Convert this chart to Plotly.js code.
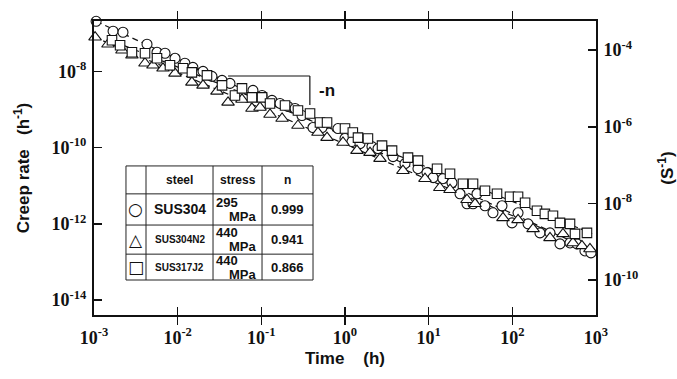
<!DOCTYPE html>
<html><head><meta charset="utf-8">
<script src="https://cdn.plot.ly/plotly-3.0.1.min.js"></script>
<style>html,body{margin:0;padding:0;background:#fff}#chart{width:677px;height:379px}</style>
</head><body><div id="chart"></div>
<script>
// SUS304 (circles), 295 MPa
const timeSUS304 = [1.06e-3,1.69e-3,2.22e-3,4.30e-3,5.66e-3,7.06e-3,9.3e-3,1.22e-2,1.52e-2,2.01e-2,2.57e-2,3.39e-2,4.22e-2,7.94e-2,0.102,0.134,0.167,0.208,0.253,0.306,0.414,0.531,0.824,1.0,1.21,1.51,2.10,2.48,3.75,5.21,7.45,9.55,11.3,14.8,19.0,23.7,28.7,33.9,37.8,47.1,58.7,75.2,99.1,117,154,214,282,371,489,593,738,871];
const rateSUS304 = [2.05e-7,1.13e-7,1.06e-7,5.14e-8,3.16e-8,2.98e-8,2.2e-8,1.63e-8,1.27e-8,1.0e-8,7.38e-9,5.8e-9,4.83e-9,3.16e-9,2.33e-9,1.73e-9,1.44e-9,1.2e-9,1.06e-9,6.95e-10,3.36e-10,3.36e-10,3.16e-10,1.73e-10,1.44e-10,1.27e-10,1.06e-10,9.4e-11,5.8e-11,3.79e-11,2.8e-11,2.2e-11,1.63e-11,1.53e-11,1.2e-11,6.15e-12,3.36e-12,3.36e-12,6.15e-12,2.98e-12,1.95e-12,2.98e-12,1.06e-12,1.95e-12,1.0e-12,5.8e-13,5.8e-13,2.98e-13,3.16e-13,2.98e-13,1.95e-13,1.73e-13];
// SUS304N2 (triangles), 440 MPa
const timeSUS304N2 = [1.03e-3,1.47e-3,2.16e-3,2.84e-3,4.07e-3,5.07e-3,6.68e-3,9.29e-3,1.48e-2,2.01e-2,2.95e-2,4.0e-2,5.87e-2,7.73e-2,9.64e-2,0.127,0.177,0.274,0.475,0.610,0.946,1.39,1.99,2.62,4.93,9.04,13.6,18.0,28.7,35.8,77.3,117,177,282,403,530,679,847];
const rateSUS304N2 = [7.85e-8,5.14e-8,3.57e-8,2.64e-8,1.63e-8,1.44e-8,1.2e-8,8.85e-9,5.14e-9,4.29e-9,2.98e-9,1.53e-9,1.83e-9,1.06e-9,1.13e-9,7.38e-10,5.8e-10,3.79e-10,2.48e-10,1.83e-10,1.36e-10,8.34e-11,7.38e-11,5.14e-11,2.48e-11,1.53e-11,8.85e-12,7.85e-12,4.29e-12,3.36e-12,1.44e-12,1.27e-12,7.38e-13,4.29e-13,5.46e-13,3.16e-13,2.64e-13,2.2e-13];
// SUS317J2 (squares), 440 MPa
const timeSUS317J2 = [1.64e-3,2.05e-3,2.84e-3,4.07e-3,5.66e-3,8.09e-3,1.16e-2,1.48e-2,2.24e-2,3.39e-2,4.84e-2,5.87e-2,7.73e-2,0.102,0.127,0.192,0.274,0.382,0.502,0.610,1.0,1.24,1.43,1.88,2.77,3.65,5.66,7.45,12.6,18.0,25.7,33.9,47.1,65.6,93.8,117,142,197,245,306,371,489,561,780];
const rateSUS317J2 = [6.55e-8,4.83e-8,3.16e-8,2.98e-8,2.2e-8,1.44e-8,1.2e-8,9.4e-9,7.85e-9,4.29e-9,2.33e-9,3.57e-9,2.07e-9,2.07e-9,1.44e-9,1.27e-9,9.4e-10,7.85e-10,4.55e-10,4.55e-10,3.16e-10,2.48e-10,1.83e-10,1.73e-10,1.13e-10,8.34e-11,5.46e-11,4.55e-11,2.8e-11,2.07e-11,1.13e-11,1.13e-11,7.38e-12,6.15e-12,5.14e-12,5.14e-12,3.57e-12,2.2e-12,1.83e-12,1.63e-12,1.06e-12,1.0e-12,5.46e-13,5.8e-13];
// fitted (dashed) lines, end points
const fitTimeSUS304 = [1.06e-3, 900];
const fitRateSUS304 = [2.05e-7, 2.0e-13];
const fitTimeSUS304N2 = [1.0e-3, 900];
const fitRateSUS304N2 = [8.0e-8, 2.1e-13];
const fitTimeSUS317J2 = [1.6e-3, 900];
const fitRateSUS317J2 = [6.5e-8, 5.6e-13];

const xTickVals = [1e-3,1e-2,1e-1,1e0,1e1,1e2,1e3];
const xTickText = ['10<sup>-3</sup>','10<sup>-2</sup>','10<sup>-1</sup>','10<sup>0</sup>','10<sup>1</sup>','10<sup>2</sup>','10<sup>3</sup>'];
const yTickVals = [1e-14,1e-12,1e-10,1e-8];
const yTickText = ['10<sup>-14</sup>','10<sup>-12</sup>','10<sup>-10</sup>','10<sup>-8</sup>'];
const y2TickVals = [1e-10,1e-8,1e-6,1e-4];
const y2TickText = ['10<sup>-10</sup>','10<sup>-8</sup>','10<sup>-6</sup>','10<sup>-4</sup>'];

const steels = ['SUS304','SUS304N2','SUS317J2'];
const stresses = ['295','440','440'];
const nValues = ['0.999','0.941','0.866'];
const symbolsText = ['\u25CB','\u25B3','\u25A1'];

const mk = (sym, s) => ({symbol: sym, size: s, color: '#fff', line: {color: '#111', width: 1.1}});
const traces = [
  {x: fitTimeSUS304, y: fitRateSUS304, mode: 'lines', line: {color: '#111', width: 1.2, dash: '6px,4px'}, showlegend: false},
  {x: fitTimeSUS304N2, y: fitRateSUS304N2, mode: 'lines', line: {color: '#111', width: 1.2, dash: '6px,4px'}, showlegend: false},
  {x: fitTimeSUS317J2, y: fitRateSUS317J2, mode: 'lines', line: {color: '#111', width: 1.2, dash: '8px,3px'}, showlegend: false},
  {x: timeSUS304, y: rateSUS304, mode: 'markers', marker: mk('circle', 10), cliponaxis: false, showlegend: false},
  {x: timeSUS304N2, y: rateSUS304N2, mode: 'markers', marker: mk('triangle-up', 11), cliponaxis: false, showlegend: false},
  {x: timeSUS317J2, y: rateSUS317J2, mode: 'markers', marker: mk('square', 9.5), cliponaxis: false, showlegend: false},
  {x: [], y: [], yaxis: 'y2', mode: 'markers', showlegend: false}
];

const tickFont = {family: 'Liberation Serif', size: 18, color: '#111', weight: 'bold'};
const titleFont = {family: 'Liberation Sans', size: 17, color: '#111', weight: 'bold'};

// table geometry in paper coords
const colX = [0.0637, 0.1036, 0.2371, 0.3347, 0.4363];
const rowY = [0.507, 0.412, 0.306, 0.207, 0.119];
const shapes = [];
shapes.push({type: 'rect', xref: 'paper', yref: 'paper', x0: colX[0], x1: colX[4], y0: rowY[4], y1: rowY[0], line: {color: '#222', width: 1}, fillcolor: '#fff', layer: 'above'});
for (let i = 1; i < 4; i++) shapes.push({type: 'line', xref: 'paper', yref: 'paper', x0: colX[i], x1: colX[i], y0: rowY[4], y1: rowY[0], line: {color: '#222', width: 1}});
for (let j = 1; j < 4; j++) shapes.push({type: 'line', xref: 'paper', yref: 'paper', x0: colX[0], x1: colX[4], y0: rowY[j], y1: rowY[j], line: {color: '#222', width: 1}});
// slope indicator
shapes.push({type: 'line', xref: 'paper', yref: 'paper', x0: 0.267, x1: 0.430, y0: 0.813, y1: 0.813, line: {color: '#111', width: 1.2}});
shapes.push({type: 'line', xref: 'paper', yref: 'paper', x0: 0.430, x1: 0.430, y0: 0.813, y1: 0.714, line: {color: '#111', width: 1.2}});

const bf = (s) => ({family: 'Liberation Sans', size: s, color: '#111', weight: 'bold'});
const ann = [];
const A = (x, y, text, size, xanchor) => ann.push({xref: 'paper', yref: 'paper', x: x, y: y, text: '<b>' + text + '</b>', showarrow: false, font: bf(size), xanchor: xanchor || 'center', yanchor: 'middle'});
A(0.444, 0.762, '-n', 17, 'left');
A((colX[1]+colX[2])/2, (rowY[0]+rowY[1])/2, 'steel', 12);
A((colX[2]+colX[3])/2, (rowY[0]+rowY[1])/2, 'stress', 12);
A((colX[3]+colX[4])/2, (rowY[0]+rowY[1])/2, 'n', 12);
const steelSizes = [14, 10, 10];
for (let r = 0; r < 3; r++) {
  const yc = (rowY[r+1] + rowY[r+2]) / 2;
  ann.push({xref: 'paper', yref: 'paper', x: (colX[0]+colX[1])/2, y: yc, text: symbolsText[r], showarrow: false, font: {family: 'DejaVu Sans', size: 17, color: '#111'}, xanchor: 'center', yanchor: 'middle'});
  A((colX[1]+colX[2])/2, yc, steels[r], steelSizes[r]);
  A(0.264, yc + 0.024, stresses[r], 13);
  A(0.296, yc - 0.024, 'MPa', 13);
  A((colX[3]+colX[4])/2, yc, nValues[r], 13);
}

const layout = {
  width: 677, height: 379,
  margin: {l: 94, r: 81, t: 21, b: 64},
  paper_bgcolor: '#fff', plot_bgcolor: '#fff',
  xaxis: {type: 'log', range: [-3, 3], tickmode: 'array', tickvals: xTickVals, ticktext: xTickText,
    ticks: 'inside', ticklen: 8, tickwidth: 1.5, tickcolor: '#111', showline: true, linecolor: '#111', linewidth: 2,
    mirror: 'allticks', showgrid: false, zeroline: false, tickfont: tickFont, ticklabelstandoff: 5,
    title: {text: '<b>Time    (h)</b>', font: titleFont, standoff: 6}},
  yaxis: {type: 'log', range: [-14.39, -6.68], tickmode: 'array', tickvals: yTickVals, ticktext: yTickText,
    ticks: 'inside', ticklen: 8, tickwidth: 1.5, tickcolor: '#111', showline: true, linecolor: '#111', linewidth: 2,
    mirror: true, showgrid: false, zeroline: false, tickfont: tickFont, ticklabelstandoff: 2,
    title: {text: '<b>Creep rate   (h<sup>-1</sup>)</b>', font: titleFont, standoff: 18}},
  yaxis2: {type: 'log', overlaying: 'y', side: 'right', range: [-10.91, -3.24], tickmode: 'array', tickvals: y2TickVals, ticktext: y2TickText,
    ticks: 'inside', ticklen: 8, tickwidth: 1.5, tickcolor: '#111', showline: true, linecolor: '#111', linewidth: 2,
    showgrid: false, zeroline: false, tickfont: tickFont, ticklabelstandoff: 2,
    title: {text: '<b>(S<sup>-1</sup>)</b>', font: titleFont, standoff: 28}},
  shapes: shapes,
  annotations: ann,
  showlegend: false
};
Plotly.newPlot('chart', traces, layout, {displayModeBar: false, staticPlot: true});
</script>
</body></html>
